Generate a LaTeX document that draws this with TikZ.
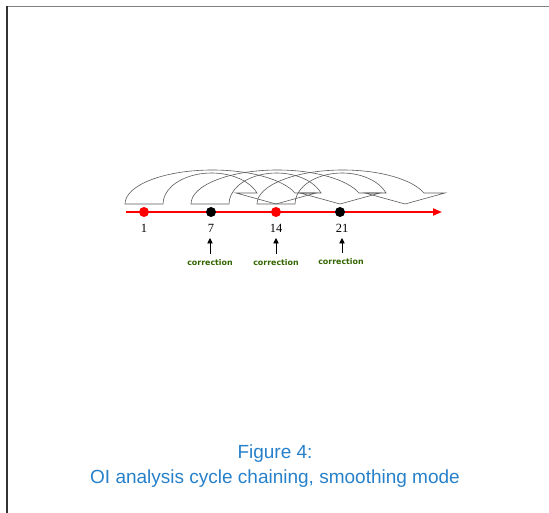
\documentclass[tikz,border=0pt]{standalone}
\usepackage{fontspec}
\setmainfont{Liberation Serif}
\newfontfamily\capfont{Liberation Sans}
\newfontfamily\corfont{DejaVu Sans}
\usetikzlibrary{arrows.meta}
\definecolor{capblue}{RGB}{38,128,202}
\definecolor{corgreen}{RGB}{50,100,0}
\definecolor{bandgray}{RGB}{90,90,90}
\newcommand\cvarrow[2]{%
  \pgfmathsetmacro\dd{#2-#1}%
  \pgfmathsetmacro\rxo{(\dd+38)/1.946}%
  \pgfmathsetmacro\rxi{(\dd-38)/1.935}%
  \draw[band] (#1-19,204) arc[start angle=180,end angle=341.1,x radius=\rxo,y radius=34]
    -- (#2+40,193) -- (#2,204) -- (#2-40,193) -- (#2-19,193)
    arc[start angle=339.2,end angle=180,x radius=\rxi,y radius=31] -- cycle;}
\begin{document}
\begin{tikzpicture}[x=1pt,y=-1pt,
  band/.style={draw=bandgray,line width=0.6pt},
  dotr/.style={circle,fill=red,inner sep=0pt,minimum size=10pt},
  dotk/.style={circle,fill=black,inner sep=0pt,minimum size=10pt},
  num/.style={inner sep=0pt,font=\fontsize{12.5}{14}\selectfont},
  cor/.style={inner sep=0pt,text=corgreen,font=\corfont\bfseries\fontsize{7.9}{9}\selectfont},
  corarr/.style={draw=black,line width=0.9pt,-{Triangle[length=5.5pt,width=5.5pt]}},
  axis/.style={draw=red,line width=1.8pt,-{Triangle[length=9pt,width=7pt]}},
  captext/.style={inner sep=0pt,anchor=base,text=capblue,font=\capfont\fontsize{19}{23}\selectfont}]
\useasboundingbox (0,0) rectangle (549,513);
% frame
\draw[gray,line width=1.8pt] (7,6.5) -- (549,6.5);
\draw[black!80,line width=1.5pt] (7,6.5) -- (7,513);
% curved arrows
\cvarrow{144}{276}
\cvarrow{210}{340}
\cvarrow{276}{405}
% axis
\coordinate (a0) at (126,212);
\coordinate (a1) at (442,212);
\draw[axis] (a0) -- (a1);
\node[dotr] (d1) at (144,212) {};
\node[dotk] (d7) at (211,212) {};
\node[dotr] (d14) at (276,212) {};
\node[dotk] (d21) at (340,212) {};
\node[num] (n1) at (144,228) {1};
\node[num] (n7) at (211,228) {7};
\node[num] (n14) at (276,228) {14};
\node[num] (n21) at (342,228) {21};
% corrections
\node[cor] (c7) at (210,263) {correction};
\node[cor] (c14) at (276,263) {correction};
\node[cor] (c21) at (341,262) {correction};
\coordinate (t7) at (210,238);
\coordinate (t14) at (276,238);
\coordinate (t21) at (342,238);
\draw[corarr] (210,254) -- (t7);
\draw[corarr] (276,254) -- (t14);
\draw[corarr] (342,253) -- (t21);
% caption
\node[captext] (cap1) at (275,458) {Figure 4:};
\node[captext] (cap2) at (275,483) {OI analysis cycle chaining, smoothing mode};
\end{tikzpicture}
\end{document}
